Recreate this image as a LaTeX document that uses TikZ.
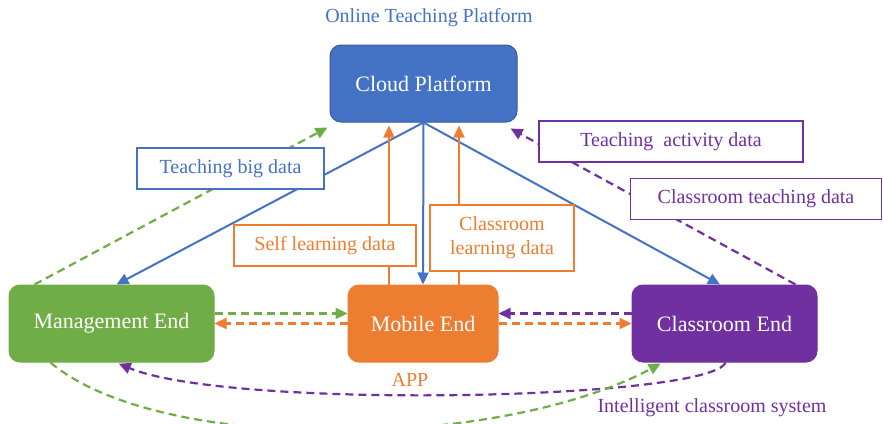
\documentclass[tikz,border=0pt]{standalone}
\usepackage{fontspec}
\setmainfont{Liberation Serif}
\usetikzlibrary{arrows.meta}

\definecolor{cloudblue}{HTML}{4472C4}
\definecolor{mobileorange}{HTML}{ED7D31}
\definecolor{mgmtgreen}{HTML}{70AD47}
\definecolor{classpurple}{HTML}{7030A0}

\begin{document}
\begin{tikzpicture}[x=1pt, y=-1pt, >={Triangle[length=12pt,width=11pt]},
        every node/.append style={inner sep=0pt}]
      \tikzstyle{block} = [rounded corners=11pt, minimum height=77pt, text=white,
        font=\fontsize{22}{26}\selectfont, line width=1pt]
      \tikzstyle{tag} = [draw, fill=white, minimum height=41pt, line width=1.3pt,
        font=\fontsize{20}{24}\selectfont, align=center]
      \tikzstyle{link} = [line width=2pt, ->]
      \tikzstyle{flow} = [line width=2.2pt, ->, dash pattern=on 8pt off 5pt]
      \clip (0,0) rectangle (883,423);
      % the four ends
      \node (cloud) [block, fill=cloudblue, draw=cloudblue!80!black, minimum width=187pt]
        at (423.5,83.5) {Cloud Platform};
      \node (mgmt) [block, fill=mgmtgreen, draw=mgmtgreen, minimum width=205pt]
        at (111.5,323.5) {Management End};
      \node (mobile) [block, fill=mobileorange, draw=mobileorange, minimum width=150pt]
        at (423,323.5) {Mobile End};
      \node (class) [block, fill=classpurple, draw=classpurple, minimum width=185pt]
        at (724.5,323.5) {Classroom End};
      % captions
      \node (online) [text=cloudblue, font=\fontsize{20}{24}\selectfont] at (429,18) {Online Teaching Platform};
      \node (app) [text=mobileorange, font=\fontsize{20}{24}\selectfont] at (410,380) {APP};
      \node (smart) [text=classpurple, font=\fontsize{20}{24}\selectfont] at (712,408) {Intelligent classroom system};
      % cloud to the ends
      \draw[link, cloudblue] (cloud.south) -- ([xshift=5pt]mgmt.north);
      \draw[link, cloudblue] (cloud.south) -- (mobile.north);
      \draw[link, cloudblue] (cloud.south) -- ([xshift=-4.5pt]class.north);
      \draw[link, mobileorange, shorten >=3pt] ([xshift=-34pt]mobile.north) -- ([xshift=-34pt]mobile.north |- cloud.south);
      \draw[link, mobileorange, shorten >=3pt] ([xshift=36pt]mobile.north) -- ([xshift=36pt]mobile.north |- cloud.south);
      \draw[flow, mgmtgreen] ([xshift=26pt]mgmt.north west) -- ([shift={(-2pt,-5pt)}]cloud.south west);
      \draw[flow, classpurple] ([xshift=-22pt]class.north east) -- ([shift={(-7pt,-6pt)}]cloud.south east);
      % between the ends
      \draw[flow, mgmtgreen] ([yshift=10pt]mgmt.east) -- ([yshift=10pt]mobile.west);
      \draw[flow, mobileorange] (mobile.west) -- (mgmt.east);
      \draw[flow, classpurple] ([yshift=10pt]class.west) -- ([yshift=10pt]mobile.east);
      \draw[flow, mobileorange] (mobile.east) -- (class.west);
      \draw[flow, classpurple, shorten >=3pt] ([xshift=1pt]class.south)
        .. controls (710,400) and (230,410) .. ([xshift=4.5pt]mgmt.south);
      \draw[flow, mgmtgreen, shorten >=2pt] ([xshift=-61pt]mgmt.south)
        .. controls (160,455) and (500,450) .. ([xshift=-62pt]class.south);
      % data labels
      \node (bigdata) [tag, draw=cloudblue, text=cloudblue, minimum width=187pt] at (230.5,168.5) {Teaching big data};
      \node (selfdata) [tag, draw=mobileorange, text=mobileorange, minimum width=182pt] at (325,245.5) {Self learning data};
      \node (classdata) [tag, draw=mobileorange, text=mobileorange, minimum width=144pt, minimum height=66pt]
        at (502,238) {Classroom\\learning data};
      \node (activity) [tag, draw=classpurple, text=classpurple, minimum width=264pt] at (671,141.5) {Teaching\ \ activity data};
      \node (teachdata) [tag, draw=classpurple, text=classpurple, minimum width=251pt] at (756,199) {Classroom teaching data};
    \end{tikzpicture}
\end{document}
